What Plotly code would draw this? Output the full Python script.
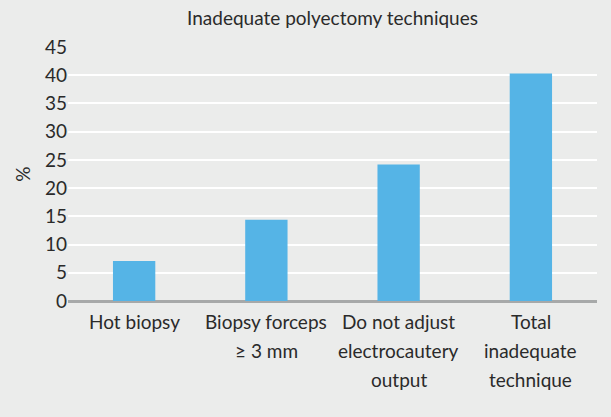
import plotly.graph_objects as go

categories = ["Hot biopsy", "Biopsy forceps<br>≥ 3 mm", "Do not adjust<br>electrocautery<br>output", "Total<br>inadequate<br>technique"]
values = [7.1, 14.4, 24.2, 40.3]
y_ticks = [0, 5, 10, 15, 20, 25, 30, 35, 40, 45]

FONT = "Lato"
TXT = "#2a2a2a"
BG = "#ebeceb"
FS = 19

fig = go.Figure()
fig.add_trace(go.Bar(x=categories, y=values, marker=dict(color="#55b4e6", line=dict(width=0)), width=0.32))

annotations = []
for cat in categories:
    for i, line in enumerate(cat.split("<br>")):
        annotations.append(dict(x=cat, xref="x", y=0, yref="paper", text=line, showarrow=False,
                                yanchor="middle", xanchor="center", yshift=-20 - 29 * i,
                                font=dict(family=FONT, size=FS, color=TXT)))

fig.update_layout(
    width=611, height=417,
    paper_bgcolor=BG, plot_bgcolor=BG,
    margin=dict(l=68, r=14, t=47, b=116, autoexpand=False),
    title=dict(text="Inadequate polyectomy techniques", x=0.5, xref="paper", y=1 - 18 / 417, yref="container",
               xanchor="center", yanchor="middle", font=dict(family=FONT, size=FS, color=TXT)),
    font=dict(family=FONT, color=TXT),
    showlegend=False,
    annotations=annotations,
    xaxis=dict(showticklabels=False, showgrid=False, showline=False, zeroline=False, fixedrange=True),
    yaxis=dict(range=[0, 45], tickvals=y_ticks, showgrid=True, gridcolor="#ffffff", gridwidth=2,
               zeroline=True, zerolinecolor="#a7a9a9", zerolinewidth=2.5, showline=False,
               tickfont=dict(family=FONT, size=FS, color=TXT), ticks="",
               title=dict(text="%", font=dict(family=FONT, size=FS, color=TXT), standoff=9)),
)

fig.write_html("out.html", config={"displayModeBar": False},
               post_script="document.body.style.margin='0';document.body.style.background='#ebeceb';")
